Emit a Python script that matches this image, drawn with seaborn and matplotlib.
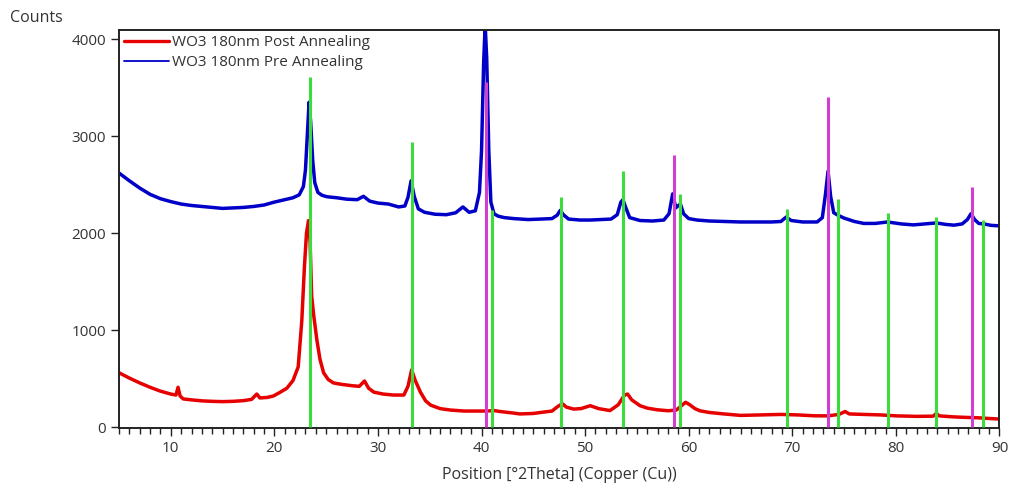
import matplotlib
matplotlib.use("Agg")
import matplotlib.pyplot as plt
from matplotlib.lines import Line2D
from matplotlib.ticker import MultipleLocator
import seaborn as sns
import pandas as pd

# XRD scan, WO3 180 nm film before annealing (2theta in degrees, counts)
pre_two_theta = [5.0, 6.0, 7.0, 8.0, 9.0, 10.0, 11.0, 12.0, 13.0, 14.0, 15.0, 16.0, 17.0,
                 18.0, 19.0, 20.0, 21.0, 21.8, 22.4, 22.8, 23.0, 23.2, 23.35, 23.5, 23.7,
                 23.9, 24.2, 24.6, 25.1, 26.0, 27.0, 28.0, 28.6, 29.2, 30.0, 31.0, 32.0,
                 32.6, 32.9, 33.2, 33.5, 33.9, 34.5, 35.5, 36.6, 37.5, 38.2, 38.8, 39.4,
                 39.8, 40.0, 40.2, 40.35, 40.5, 40.7, 40.9, 41.2, 41.6, 42.2, 43.1, 44.5,
                 45.7, 46.8, 47.3, 47.6, 47.9, 48.4, 49.5, 50.5, 51.5, 52.5, 53.1, 53.45,
                 53.65, 53.9, 54.3, 55.3, 56.5, 57.6, 58.1, 58.45, 58.75, 58.95, 59.2, 59.5,
                 60.0, 60.8, 62.0, 63.5, 65.0, 66.5, 68.0, 68.9, 69.4, 69.9, 71.0, 72.4,
                 72.9, 73.2, 73.45, 73.7, 74.0, 74.4, 75.0, 76.0, 76.9, 78.0, 79.2, 80.5,
                 81.7, 82.8, 83.9, 84.8, 85.6, 86.4, 86.9, 87.25, 87.6, 88.0, 88.5, 89.2, 90.0]
pre_counts = [2620, 2540, 2465, 2400, 2355, 2325, 2300, 2285, 2275, 2265, 2255, 2260, 2265,
              2275, 2290, 2320, 2345, 2365, 2395, 2480, 2650, 3050, 3350, 3150, 2750,
              2520, 2420, 2390, 2375, 2365, 2350, 2345, 2380, 2330, 2310, 2300, 2270,
              2280, 2370, 2540, 2380, 2250, 2215, 2195, 2190, 2210, 2270, 2215, 2230,
              2420, 2850, 3750, 4150, 3800, 2850, 2320, 2200, 2175, 2160, 2150, 2140,
              2145, 2150, 2185, 2235, 2190, 2145, 2135, 2135, 2140, 2145, 2190, 2320,
              2345, 2270, 2160, 2130, 2125, 2135, 2200, 2405, 2260, 2280, 2300, 2200,
              2150, 2135, 2125, 2120, 2115, 2115, 2115, 2120, 2165, 2130, 2115, 2115,
              2160, 2400, 2640, 2380, 2210, 2185, 2155, 2120, 2100, 2100, 2115, 2095,
              2085, 2095, 2105, 2090, 2082, 2095, 2140, 2200, 2140, 2100, 2095, 2080, 2075]

# XRD scan, WO3 180 nm film after annealing
post_two_theta = [5.0, 6.0, 7.0, 8.0, 9.0, 10.0, 10.5, 10.7, 10.9, 11.2, 12.0, 13.0, 14.0,
                  15.0, 16.0, 17.0, 17.8, 18.3, 18.6, 19.3, 19.9, 20.5, 21.2, 21.8, 22.3,
                  22.65, 22.9, 23.1, 23.3, 23.45, 23.6, 23.8, 24.1, 24.4, 24.75, 25.2, 25.7,
                  26.5, 27.6, 28.2, 28.7, 29.1, 29.6, 30.5, 31.5, 32.5, 32.9, 33.25, 33.6,
                  34.1, 34.6, 35.1, 36.0, 37.0, 38.3, 39.5, 40.5, 41.2, 41.8, 43.0, 43.7,
                  45.0, 45.7, 46.8, 47.4, 47.8, 48.2, 48.9, 49.6, 50.5, 51.3, 52.4, 53.2,
                  53.8, 54.1, 54.5, 55.3, 56.0, 56.95, 58.0, 58.8, 59.3, 59.7, 60.1, 60.6,
                  61.1, 62.0, 63.4, 65.0, 67.0, 68.9, 70.5, 72.1, 73.4, 74.5, 75.1, 75.5,
                  76.9, 78.5, 80.1, 82.0, 83.6, 83.9, 84.2, 85.5, 86.6, 88.0, 89.0, 90.0]
post_counts = [560, 505, 455, 410, 370, 340, 330, 410, 320, 290, 280, 270, 265,
               262, 265, 272, 285, 340, 300, 305, 320, 355, 400, 480, 620,
               1100, 1650, 2000, 2130, 1900, 1350, 1150, 900, 700, 560, 490, 455,
               440, 425, 420, 475, 400, 360, 340, 330, 330, 420, 590, 480,
               360, 270, 225, 190, 175, 165, 165, 165, 170, 160, 145, 135,
               140, 150, 165, 215, 240, 205, 185, 190, 220, 190, 170, 230,
               330, 340, 280, 220, 195, 178, 168, 175, 220, 255, 230, 190,
               167, 150, 135, 120, 125, 130, 125, 116, 115, 130, 160, 135,
               130, 125, 115, 110, 112, 140, 115, 105, 100, 95, 88, 82]

# Reference pattern sticks
wo3_ref_pos = [23.45, 33.3, 41.0, 47.65, 53.65, 59.2, 69.5, 74.4, 79.2, 83.9, 88.45]
wo3_ref_height = [3610, 2936, 2240, 2372, 2640, 2400, 2246, 2350, 2205, 2167, 2133]
w_ref_pos = [40.4, 58.55, 73.45, 87.35]
w_ref_height = [3560, 2805, 3405, 2475]

series_labels = ["WO3 180nm Post Annealing", "WO3 180nm Pre Annealing"]
x_ticks = [10, 20, 30, 40, 50, 60, 70, 80, 90]
y_ticks = [0, 1000, 2000, 3000, 4000]

sns.set_theme(style="ticks")
plt.rcParams["font.family"] = ["Open Sans", "DejaVu Sans"]

pre_df = pd.DataFrame({"two_theta": pre_two_theta, "counts": pre_counts})
post_df = pd.DataFrame({"two_theta": post_two_theta, "counts": post_counts})

fig = plt.figure(figsize=(10.11, 4.84), dpi=100)
ax = fig.add_axes([0.1177, 0.1157, 0.8709, 0.8223])

red = "#e60000"
blue = "#0000c8"
sns.lineplot(data=pre_df, x="two_theta", y="counts", ax=ax, color=blue,
             linewidth=2.5, zorder=2)
sns.lineplot(data=post_df, x="two_theta", y="counts", ax=ax, color=red,
             linewidth=2.5, zorder=2)

ax.vlines(wo3_ref_pos, 0, wo3_ref_height, colors="#3ddc3d", linewidth=2.2, zorder=3)
ax.vlines(w_ref_pos, 0, w_ref_height, colors="#d13fd1", linewidth=2.2, zorder=3)

ax.set_xlim(5, 90)
ax.set_ylim(-10, 4095)
ax.set_xticks(x_ticks)
ax.set_yticks(y_ticks)
ax.xaxis.set_minor_locator(MultipleLocator(1))
ax.tick_params(axis="both", which="major", direction="out", length=6, width=1,
               color="#222222", labelsize=11, labelcolor="#333333")
ax.tick_params(axis="x", which="minor", direction="out", length=4, width=1, color="#222222")
for side in ["left", "right", "top", "bottom"]:
    ax.spines[side].set_visible(True)
    ax.spines[side].set_color("#222222")
    ax.spines[side].set_linewidth(1.4)

ax.set_xlabel("Position [°2Theta] (Copper (Cu))", fontsize=11.5, color="#333333", labelpad=8)
ax.set_ylabel("")
fig.text(0.01, 0.962, "Counts", fontsize=11.5, color="#333333", ha="left", va="center")

handles = [Line2D([], [], color=red, linewidth=2.4),
           Line2D([], [], color=blue, linewidth=1.3)]
ax.legend(handles, series_labels, loc="upper left", bbox_to_anchor=(0, 1),
          borderaxespad=0.15, borderpad=0.2, frameon=False, fontsize=11,
          handlelength=2.9, handletextpad=0.25, labelspacing=0.3,
          labelcolor="#333333")

fig.savefig("out.png", dpi=100)
